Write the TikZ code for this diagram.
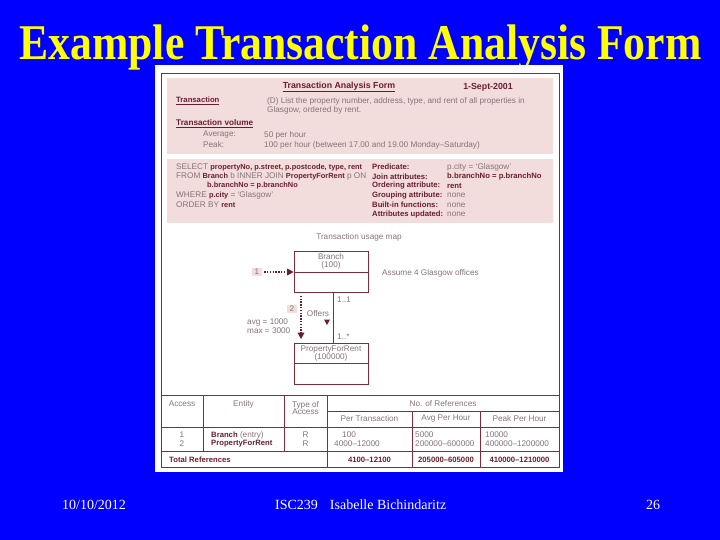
\documentclass[tikz,border=0pt]{standalone}
\usepackage{fontspec}
\setmainfont{Liberation Serif}
\setsansfont{Liberation Sans}
\usetikzlibrary{arrows.meta}
\definecolor{bgblue}{RGB}{0,0,255}
\definecolor{ttlyellow}{RGB}{255,255,0}
\definecolor{formpink}{RGB}{242,221,220}
\definecolor{linered}{RGB}{125,45,60}
\definecolor{txtgrey}{RGB}{135,115,120}
\definecolor{txtdark}{RGB}{105,30,45}
\newcommand{\fsz}{\fontsize{8.2}{9}\selectfont\sffamily}
\newcommand{\fbz}{\fontsize{7.7}{9}\selectfont\sffamily\bfseries}
\newcommand{\fsq}{\fontsize{7.4}{9}\selectfont\sffamily\bfseries}
\newcommand{\bdk}[1]{{\fbz\color{txtdark}#1}}
\newcommand{\bsq}[1]{{\fsq\color{txtdark}#1}}
\begin{document}
\begin{tikzpicture}[x=1pt,y=-1pt,
 txt/.style={font=\fsz, text=txtgrey, inner sep=0pt, anchor=west},
 bt/.style={txt, font=\fbz, text=txtdark},
 ctr/.style={anchor=center},
 frm/.style={draw=linered, line width=0.6pt},
 ent/.style={draw=linered, line width=0.6pt, fill=white, minimum width=74pt, minimum height=41pt, inner sep=0pt},
 tag/.style={fill=formpink, font=\fsz, text=txtgrey, minimum width=10pt, minimum height=8pt, inner sep=0pt},
 dotarrow/.style={draw=txtdark, line width=1.5pt, dash pattern=on 1.4pt off 1.4pt, -{Triangle[length=6.5pt,width=6.5pt]}},
 foot/.style={font=\fontsize{14}{16}\selectfont\rmfamily, text=white, inner sep=0pt, anchor=base west},
]
\useasboundingbox (0,0) rectangle (720,540);
\fill[bgblue] (0,0) rectangle (720,540);
% title
\node[font=\fontsize{50}{56}\selectfont\rmfamily\bfseries, text=ttlyellow, inner sep=0pt, anchor=base] (title) at (360.5,60) {\scalebox{0.873}[1]{Example Transaction Analysis Form}};
% panel
\fill[white] (155,65) rectangle (563,472);
\draw[frm] (161,73) rectangle (559,467);
\fill[formpink] (167,78) rectangle (553,154);
\fill[formpink] (167,159) rectangle (553,223);
% box 1
\node[bt,ctr,font=\fontsize{8.8}{10}\selectfont\sffamily\bfseries] (hd) at (339,87) {\underline{Transaction Analysis Form}};
\node[bt,ctr,font=\fontsize{8.8}{10}\selectfont\sffamily\bfseries] (date) at (488,87) {1-Sept-2001};
\node[bt] (tr) at (176,101) {\underline{Transaction}};
\node[txt] (d1) at (267,101) {(D) List the property number, address, type, and rent of all properties in};
\node[txt] (d2) at (267,110.5) {Glasgow, ordered by rent.};
\node[bt,font=\fontsize{8.2}{9}\selectfont\sffamily\bfseries] (tv) at (176,124) {\underline{Transaction volume}};
\node[txt] (av) at (203,135) {Average:};
\node[txt] (avv) at (264,135) {50 per hour};
\node[txt] (pk) at (203,145) {Peak:};
\node[txt] (pkv) at (264,145) {100 per hour (between 17.00 and 19.00 Monday–Saturday)};
% box 2
\node[txt] (s1) at (176,167) {SELECT \bsq{propertyNo, p.street, p.postcode, type, rent}};
\node[txt] (s2) at (176,176.5) {FROM \bsq{Branch} b INNER JOIN \bsq{PropertyForRent} p ON};
\node[txt] (s3) at (207,186) {\bsq{b.branchNo = p.branchNo}};
\node[txt] (s4) at (176,195.5) {WHERE \bsq{p.city} = `Glasgow'};
\node[txt] (s5) at (176,205) {ORDER BY \bsq{rent}};
\node[bt] (l1) at (372,167) {Predicate:};
\node[bt] (l2) at (372,176.5) {Join attributes:};
\node[bt] (l3) at (372,186) {Ordering attribute:};
\node[bt] (l4) at (372,195.5) {Grouping attribute:};
\node[bt] (l5) at (372,205) {Built-in functions:};
\node[bt] (l6) at (372,214.5) {Attributes updated:};
\node[txt] (v1) at (447,167) {p.city = `Glasgow'};
\node[bt] (v2) at (447,176.5) {b.branchNo = p.branchNo};
\node[bt] (v3) at (447,186) {rent};
\node[txt] (v4) at (447,195.5) {none};
\node[txt] (v5) at (447,205) {none};
\node[txt] (v6) at (447,214.5) {none};
% usage map
\node[txt,ctr] (um) at (359,237) {Transaction usage map};
\node[ent] (br) at (331,272) {};
\draw[frm] (br.west) -- (br.east);
\node[txt,ctr,align=center] (brt) at (331,261.5) {Branch\\[-1.5pt](100)};
\node[ent] (pfr) at (331,363.5) {};
\draw[frm] (pfr.west) -- (pfr.east);
\node[txt,ctr,align=center] (pft) at (331,353.5) {PropertyForRent\\[-1.5pt](100000)};
\node[tag] (t1) at (257,272) {1};
\node[tag] (t2) at (292,309) {2};
\draw[dotarrow, shorten <=2pt] (t1.east) -- (br.west);
\coordinate (dtop) at ([xshift=-30pt,yshift=-3pt]br.south);
\coordinate (dbot) at ([xshift=-30pt]pfr.north);
\draw[dotarrow, shorten >=3.5pt] (dtop) -- (dbot);
\draw[frm] ([xshift=2pt]br.south) -- ([xshift=2pt]pfr.north);
\node[txt] (m1) at (337,300) {1..1};
\node[txt] (m2) at (337,337) {1..*};
\node[txt,ctr] (of) at (318,314) {Offers};
\fill[txtdark] (324,319.5) -- (330,319.5) -- (327,325) -- cycle;
\node[txt] (avg) at (247,322.5) {avg = 1000};
\node[txt] (mx) at (247,331) {max = 3000};
\node[txt] (as) at (382,273) {Assume 4 Glasgow offices};
% table
\draw[frm] (161,395) -- (559,395);
\draw[frm] (203,395) -- (203,451);
\draw[frm] (284,395) -- (284,451);
\draw[frm] (327,395) -- (327,467);
\draw[frm] (412,411) -- (412,467);
\draw[frm] (480,411) -- (480,467);
\draw[frm] (327,411) -- (559,411);
\draw[frm] (161,427) -- (559,427);
\draw[frm] (161,451) -- (559,451);
\node[txt,ctr] (h1) at (182,404) {Access};
\node[txt,ctr] (h2) at (243.5,404) {Entity};
\node[txt,ctr,align=center] (h3) at (305.5,408) {Type of\\[-1.5pt]Access};
\node[txt,ctr] (h4) at (443,404) {No. of References};
\node[txt,ctr] (h5) at (369.5,419) {Per Transaction};
\node[txt,ctr] (h6) at (446,419) {Avg Per Hour};
\node[txt,ctr] (h7) at (519.5,419) {Peak Per Hour};
\node[txt,ctr] (r1a) at (182,435) {1};
\node[txt,ctr] (r2a) at (182,444) {2};
\node[txt] (r1b) at (211,435) {\bdk{Branch} (entry)};
\node[bt] (r2b) at (211,444) {PropertyForRent};
\node[txt,ctr] (r1c) at (305.5,435) {R};
\node[txt,ctr] (r2c) at (305.5,444) {R};
\node[txt] (r1d) at (342,435) {100};
\node[txt] (r2d) at (334,444) {4000–12000};
\node[txt] (r1e) at (415,435) {5000};
\node[txt] (r2e) at (415,444) {200000–600000};
\node[txt] (r1f) at (485,435) {10000};
\node[txt] (r2f) at (485,444) {400000–1200000};
\node[bt] (tot) at (169,459.5) {Total References};
\node[bt,ctr] (tt1) at (369.5,459.5) {4100–12100};
\node[bt,ctr] (tt2) at (446,459.5) {205000–605000};
\node[bt,ctr] (tt3) at (519.5,459.5) {410000–1210000};
% footer
\node[foot] (f1) at (62,509) {10/10/2012};
\node[foot] (f2) at (275,509) {ISC239\hspace{12pt}Isabelle Bichindaritz};
\node[foot] (f3) at (646,509) {26};
\end{tikzpicture}
\end{document}
